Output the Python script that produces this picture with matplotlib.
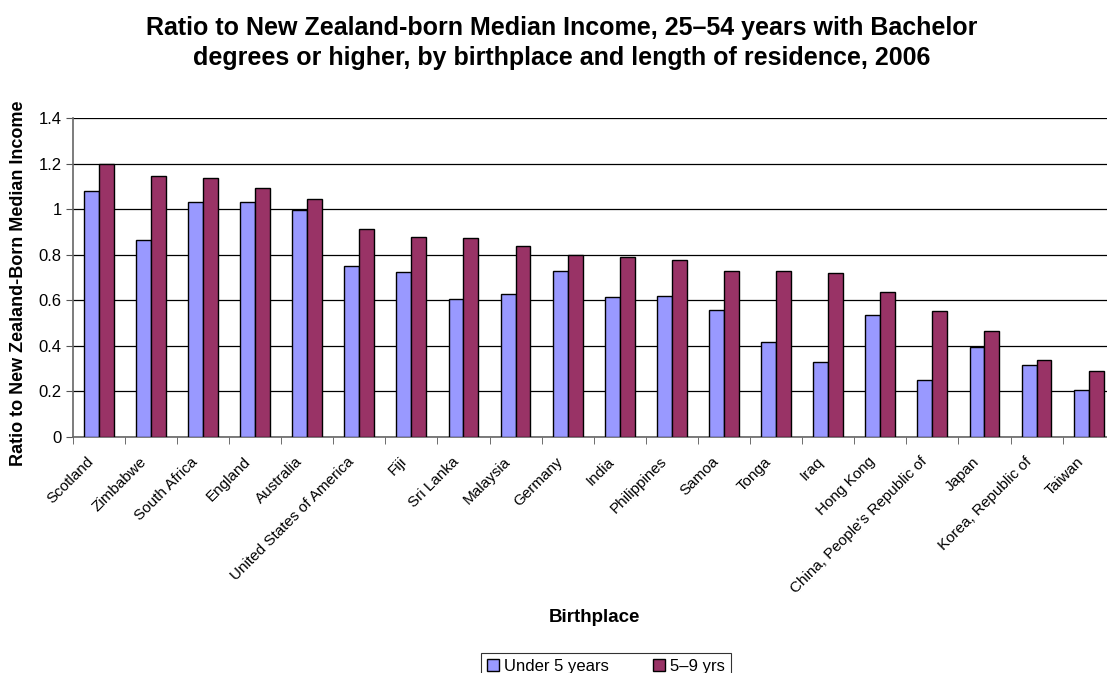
import numpy as np
import matplotlib
matplotlib.use("Agg")
import matplotlib.pyplot as plt
import matplotlib.transforms as mtransforms

plt.rcParams['font.family'] = ['Liberation Sans', 'DejaVu Sans']

countries = ['Scotland', 'Zimbabwe', 'South Africa', 'England', 'Australia',
             'United States of America', 'Fiji', 'Sri Lanka', 'Malaysia', 'Germany',
             'India', 'Philippines', 'Samoa', 'Tonga', 'Iraq', 'Hong Kong',
             "China, People's Republic of", 'Japan', 'Korea, Republic of', 'Taiwan']
under5 = [1.08, 0.865, 1.03, 1.03, 0.997, 0.750, 0.723, 0.606, 0.626, 0.728,
          0.614, 0.620, 0.556, 0.417, 0.330, 0.534, 0.252, 0.394, 0.316, 0.208]
yrs5_9 = [1.198, 1.144, 1.138, 1.094, 1.043, 0.914, 0.878, 0.872, 0.840, 0.800,
          0.788, 0.775, 0.728, 0.728, 0.718, 0.636, 0.554, 0.466, 0.336, 0.291]
yticks = [0, 0.2, 0.4, 0.6, 0.8, 1, 1.2, 1.4]
ytick_labels = ['0', '0.2', '0.4', '0.6', '0.8', '1', '1.2', '1.4']

fig = plt.figure(figsize=(11.07, 6.73), dpi=100)
# plot area runs past the right edge of the picture, as in the original
ax = fig.add_axes([72.7 / 1107, 1 - 437 / 673, (1114.7 - 72.7) / 1107, 319 / 673])

x = np.arange(len(countries))
w = 1 / 3.5
ax.bar(x - w / 2, under5, w, color='#9999FF', edgecolor='black', linewidth=1.0,
       label='Under 5 years', zorder=3)
ax.bar(x + w / 2, yrs5_9, w, color='#993366', edgecolor='black', linewidth=1.0,
       label='5\u20139 yrs', zorder=3)

ax.set_xlim(-0.5, len(countries) - 0.5)
ax.set_ylim(0, 1.4)
ax.set_yticks(yticks, ytick_labels, fontsize=12)
ax.yaxis.grid(True, color='black', linewidth=0.9, zorder=0)
ax.tick_params(axis='y', direction='out', length=5, color='#555555', pad=3)

ax.set_xticks(x)
ax.set_xticklabels(countries, rotation=45, ha='right', rotation_mode='anchor', fontsize=11)
ax.set_xticks(np.arange(len(countries)) - 0.5, minor=True)
ax.tick_params(axis='x', which='major', length=0, pad=9)
ax.tick_params(axis='x', which='minor', direction='out', length=5, color='#555555')
shift = mtransforms.ScaledTranslation(-12 / 100, -5 / 100, fig.dpi_scale_trans)
for lab in ax.get_xticklabels():
    lab.set_transform(lab.get_transform() + shift)

for s in ['top', 'right']:
    ax.spines[s].set_visible(False)
for s in ['left', 'bottom']:
    ax.spines[s].set_color('#666666')
    ax.spines[s].set_linewidth(1.2)

fig.text(0.507, 1 - 43 / 673, 'Ratio to New Zealand-born Median Income, 25\u201354 years with Bachelor\n'
         'degrees or higher, by birthplace and length of residence, 2006',
         ha='center', va='center', fontsize=18, fontweight='bold', linespacing=1.34)
fig.text(19 / 1107, 1 - 283 / 673, 'Ratio to New Zealand-Born Median Income', rotation=90,
         ha='center', va='center', fontsize=13, fontweight='bold')
fig.text(594 / 1107, 1 - 618 / 673, 'Birthplace', ha='center', va='center',
         fontsize=13.5, fontweight='bold')

leg = fig.legend(loc='upper left', bbox_to_anchor=(481 / 1107, 1 - 653 / 673), ncol=2,
                 fontsize=12, frameon=True, fancybox=False, edgecolor='black',
                 handlelength=0.75, handleheight=0.75, handletextpad=0.3,
                 columnspacing=2.6, borderpad=0.35, borderaxespad=0)
leg.get_frame().set_linewidth(0.8)

fig.savefig('out.png', dpi=100)
